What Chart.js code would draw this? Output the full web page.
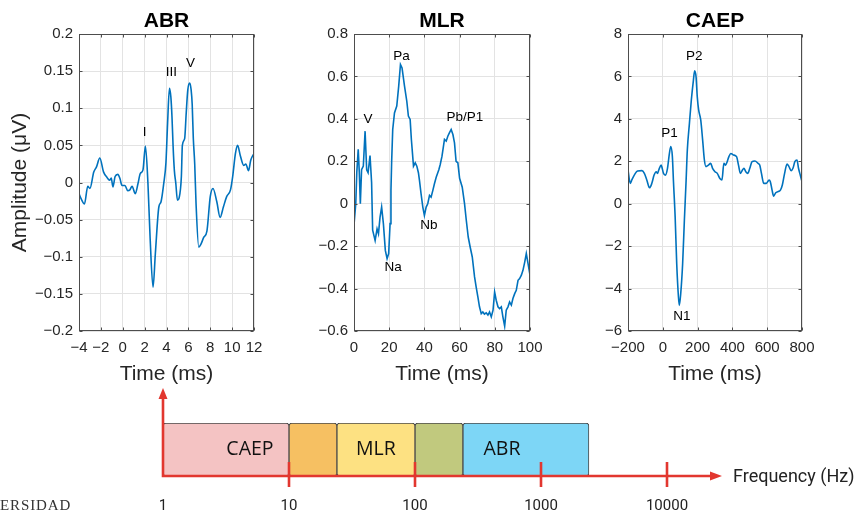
<!DOCTYPE html>
<html>
<head>
<meta charset="utf-8">
<script src="https://cdn.jsdelivr.net/npm/chart.js@4.4.1/dist/chart.umd.min.js"></script>
<style>
  html, body { margin: 0; padding: 0; background: #fff; }
  body { width: 858px; height: 513px; position: relative; overflow: hidden; }
  canvas { position: absolute; }
  #abr { left: 0; top: 0; }
  #mlr { left: 290px; top: 0; }
  #caep { left: 560px; top: 0; }
  #bands { left: 0; top: 380px; }
  .mark { position: absolute; left: 0; top: 497px; font: 15px "Liberation Serif", serif; letter-spacing: 0.9px; color: #333; }
</style>
</head>
<body>
<canvas id="abr" width="290" height="395"></canvas>
<canvas id="mlr" width="270" height="395"></canvas>
<canvas id="caep" width="298" height="395"></canvas>
<canvas id="bands" width="858" height="133"></canvas>
<div class="mark">ERSIDAD</div>
<script>
// ABR waveform (time in ms, amplitude in uV)
const ABR_T = [-4, -3.8, -3.5, -3.2, -3.0, -2.65, -2.4, -2.1, -1.75, -1.45, -1.2, -1.05, -0.9, -0.7, -0.45, -0.25,
  -0.07, 0.2, 0.45, 0.65, 0.85, 1.15, 1.4, 1.6, 1.85, 2.07, 2.3, 2.5, 2.77, 2.98, 3.3, 3.5, 3.75, 3.95, 4.1, 4.27,
  4.4, 4.5, 4.6, 4.72, 4.85, 5.0, 5.15, 5.36, 5.45, 5.66, 5.8, 5.95, 6.12, 6.25, 6.35, 6.45, 6.58, 6.7, 6.95, 7.15,
  7.4, 7.7, 8.0, 8.25, 8.6, 8.9, 9.2, 9.5, 9.85, 10.05, 10.3, 10.5, 10.75, 11.06, 11.25, 11.5, 11.7, 12];
const ABR_V = [-0.015, -0.022, -0.029, -0.005, -0.008, 0.014, 0.021, 0.033, 0.014, 0.007, 0.003, 0.006, -0.006, 0.008,
  0.011, 0.005, -0.004, -0.004, -0.011, -0.010, -0.005, -0.015, -0.001, 0.012, 0.017, 0.049, 0.0, -0.074, -0.141,
  -0.096, -0.033, -0.026, -0.001, 0.027, 0.08, 0.127, 0.115, 0.089, 0.05, 0.016, -0.001, -0.024, -0.021, 0.008, 0.05,
  0.059, 0.093, 0.125, 0.134, 0.125, 0.105, 0.06, 0.025, -0.028, -0.087, -0.083, -0.074, -0.065, -0.019, -0.008,
  -0.026, -0.047, -0.033, -0.019, -0.010, 0.008, 0.039, 0.05, 0.036, 0.023, 0.025, 0.016, 0.03, 0.039];
const ABR_PEAKS = ['I', 'III', 'V'];
const ABR_PEAK_T = [2, 4.44, 6.2];
const ABR_PEAK_V = [0.068, 0.149, 0.16];

// MLR waveform
const MLR_T = [0, 1.0, 1.6, 2.4, 3.0, 3.6, 4.3, 5.3, 6.3, 7.2, 8.0, 9.1, 10.0, 10.6, 12.0, 13.1, 13.9, 14.8, 15.7,
  16.7, 17.8, 18.8, 19.7, 20.5, 21.0, 21.4, 22.0, 23.0, 24.3, 25.4, 26.4, 27.3, 28.7, 30.0, 30.9, 31.9, 32.6, 33.8,
  34.8, 35.7, 36.6, 37.2, 38.1, 39.1, 40.0, 41.0, 41.9, 42.9, 43.8, 44.8, 45.7, 46.7, 47.6, 48.2, 49.0, 50.0, 51.4,
  52.4, 53.3, 54.2, 55.2, 56.2, 57.1, 58.0, 59.0, 60.0, 61.5, 62.8, 63.8, 64.9, 66.0, 67.2, 68.5, 69.4, 70.4, 71.3,
  72.3, 73.2, 74.1, 75.1, 76.1, 77.0, 78.0, 79.0, 79.9, 80.8, 81.8, 82.7, 83.7, 84.6, 85.6, 86.5, 87.5, 88.4, 89.4,
  90.3, 91.3, 92.2, 93.2, 94.1, 95.1, 96.0, 97.0, 97.9, 98.9, 100];
const MLR_V = [-0.10, 0.0, 0.15, 0.256, 0.15, 0.0, 0.16, 0.177, 0.342, 0.16, 0.146, 0.227, 0.10, -0.125, -0.173,
  -0.118, -0.141, -0.063, -0.016, -0.094, -0.22, -0.259, -0.235, -0.094, 0.063, 0.2, 0.35, 0.428, 0.46, 0.554, 0.656,
  0.64, 0.554, 0.483, 0.413, 0.397, 0.303, 0.177, 0.193, 0.177, 0.146, 0.11, 0.047, -0.016, -0.055, -0.016, 0.0,
  0.039, 0.031, 0.063, 0.094, 0.125, 0.146, 0.16, 0.185, 0.224, 0.303, 0.295, 0.318, 0.334, 0.35, 0.326, 0.287, 0.2,
  0.193, 0.12, 0.078, 0.0, -0.078, -0.157, -0.204, -0.251, -0.345, -0.392, -0.44, -0.486, -0.518, -0.51, -0.52,
  -0.514, -0.525, -0.51, -0.533, -0.502, -0.416, -0.455, -0.486, -0.494, -0.486, -0.533, -0.577, -0.502, -0.486,
  -0.463, -0.478, -0.447, -0.424, -0.408, -0.361, -0.353, -0.337, -0.314, -0.275, -0.235, -0.282, -0.337];
const MLR_PEAKS = ['V', 'Pa', 'Na', 'Nb', 'Pb/P1'];
const MLR_PEAK_T = [8.0, 27, 22.2, 42.5, 63];
const MLR_PEAK_V = [0.399, 0.694, -0.30, -0.10, 0.408];

// CAEP waveform
const CAEP_T = [-200, -187, -178, -158, -145, -120, -106, -92, -76, -63, -50, -38, -31, -23, -10, 4, 15, 27, 38, 46,
  55, 61, 71, 80, 90, 95, 103, 114, 124, 134, 141, 153, 164, 176, 183, 191, 198, 206, 218, 229, 239, 248, 262, 275,
  286, 300, 313, 328, 340, 351, 361, 370, 380, 391, 405, 424, 435, 446, 458, 466, 477, 488, 500, 513, 529, 548, 557,
  567, 580, 595, 611, 618, 628, 637, 649, 662, 676, 687, 700, 714, 725, 738, 748, 759, 771, 780, 790, 800];
const CAEP_V = [1.59, 0.96, 1.12, 1.43, 1.54, 1.56, 1.43, 1.12, 0.75, 0.96, 1.35, 1.51, 1.43, 1.59, 1.82, 1.43, 1.35,
  1.67, 2.37, 2.69, 2.22, 1.1, -0.63, -2.83, -4.4, -4.79, -4.24, -2.83, -0.78, 1.1, 2.53, 3.79, 4.89, 5.83, 6.27,
  5.99, 5.05, 4.42, 3.95, 3.0, 2.06, 1.75, 1.82, 1.9, 1.67, 1.51, 1.43, 1.19, 1.12, 1.9, 1.82, 1.98, 2.22, 2.37, 2.3,
  2.22, 1.82, 1.43, 1.59, 1.67, 1.51, 1.43, 1.67, 1.98, 2.01, 1.9, 1.82, 1.43, 0.96, 0.96, 1.12, 1.04, 0.64, 0.36,
  0.52, 0.57, 0.64, 0.88, 1.43, 1.87, 1.75, 1.56, 1.67, 1.98, 2.06, 1.67, 1.35, 1.04];
const CAEP_PEAKS = ['P1', 'P2', 'N1'];
const CAEP_PEAK_T = [38, 181, 109];
const CAEP_PEAK_V = [3.33, 6.94, -5.32];

// frequency bands (Hz)
const BAND_NAMES = ['CAEP', 'MLR', 'ABR'];
const BAND_LO = [1, 10, 100];
const BAND_HI = [24, 240, 2400];
const FREQ_TICKS = [1, 10, 100, 1000, 10000];

const FONT = '"Liberation Sans", Arial, sans-serif';
const TEXT = '#262626';
const AXIS = '#4d4d4d';
const GRID = '#e3e3e3';
const LINE = '#0072BD';
const RED = '#e2372f';

const fmtTick = v => String(Math.round(v * 1000) / 1000).replace('-', '\u2212');

// box round the axes with short inward tick marks on all four sides
const matlabBox = {
  id: 'matlabBox',
  afterDatasetsDraw(chart) {
    const { ctx, chartArea: a, scales: { x, y } } = chart;
    const L = Math.round(a.left) + 0.5, R = Math.round(a.right) - 0.5;
    const T = Math.round(a.top) + 0.5, B = Math.round(a.bottom) - 0.5;
    const tl = 3;
    ctx.save();
    ctx.strokeStyle = AXIS;
    ctx.lineWidth = 1;
    ctx.strokeRect(L, T, R - L, B - T);
    ctx.beginPath();
    x.ticks.forEach(tk => {
      const px = Math.round(x.getPixelForValue(tk.value)) + 0.5;
      ctx.moveTo(px, B); ctx.lineTo(px, B - tl);
      ctx.moveTo(px, T); ctx.lineTo(px, T + tl);
    });
    y.ticks.forEach(tk => {
      const py = Math.round(y.getPixelForValue(tk.value)) + 0.5;
      ctx.moveTo(L, py); ctx.lineTo(L + tl, py);
      ctx.moveTo(R, py); ctx.lineTo(R - tl, py);
    });
    ctx.stroke();
    ctx.restore();
  }
};

// peak names plus the panel title, centred over the plot area
const panelText = (title, names, t, v) => ({
  id: 'panelText',
  afterDatasetsDraw(chart) {
    const { ctx, chartArea: a, scales: { x, y } } = chart;
    ctx.save();
    ctx.textAlign = 'center';
    ctx.textBaseline = 'middle';
    ctx.fillStyle = '#000';
    ctx.font = '13.5px ' + FONT;
    names.forEach((n, i) => ctx.fillText(n, x.getPixelForValue(t[i]), y.getPixelForValue(v[i])));
    ctx.font = 'bold 21px ' + FONT;
    ctx.fillText(title, (a.left + a.right) / 2, 21.5);
    ctx.restore();
  }
});

function evokedPanel(id, cfg) {
  const zeroPad = s => { s.paddingLeft = s.paddingRight = s.paddingTop = s.paddingBottom = 0; };
  return new Chart(document.getElementById(id), {
    type: 'line',
    data: {
      datasets: [{
        data: cfg.t.map((x, i) => ({ x, y: cfg.v[i] })),
        borderColor: LINE,
        borderWidth: 1.6,
        pointRadius: 0,
        tension: 0,
        cubicInterpolationMode: cfg.smooth ? 'monotone' : 'default'
      }]
    },
    options: {
      responsive: false,
      animation: false,
      events: [],
      layout: { padding: { left: 0, right: cfg.rightPad, top: 34, bottom: 0 } },
      plugins: {
        legend: { display: false },
        tooltip: { enabled: false },
        title: { display: false }
      },
      scales: {
        x: {
          type: 'linear', min: cfg.xMin, max: cfg.xMax,
          grid: { color: GRID, drawTicks: false },
          border: { display: false },
          ticks: { stepSize: cfg.xStep, autoSkip: false, maxRotation: 0, padding: 8, color: TEXT,
            font: { family: FONT, size: 15 }, callback: fmtTick },
          title: { display: true, text: 'Time (ms)', color: TEXT, font: { family: FONT, size: 21 },
            padding: { top: 0, bottom: 8 } },
          afterFit: s => { s.height = 64; zeroPad(s); }
        },
        y: {
          type: 'linear', min: cfg.yMin, max: cfg.yMax,
          grid: { color: GRID, drawTicks: false },
          border: { display: false },
          ticks: { stepSize: cfg.yStep, autoSkip: false, padding: 6, color: TEXT,
            font: { family: FONT, size: 15 }, callback: fmtTick },
          title: { display: !!cfg.yTitle, text: cfg.yTitle || '', color: TEXT, font: { family: FONT, size: 21 },
            padding: { top: 8, bottom: 0 } },
          afterFit: s => { s.width = cfg.axisWidth; zeroPad(s); }
        }
      }
    },
    plugins: [matlabBox, panelText(cfg.title, cfg.peaks, cfg.peakT, cfg.peakV)]
  });
}

evokedPanel('abr', {
  title: 'ABR', t: ABR_T, v: ABR_V, smooth: true,
  xMin: -4, xMax: 12, xStep: 2, yMin: -0.2, yMax: 0.2, yStep: 0.05,
  axisWidth: 79, rightPad: 36, yTitle: 'Amplitude (\u03bcV)',
  peaks: ABR_PEAKS, peakT: ABR_PEAK_T, peakV: ABR_PEAK_V
});
evokedPanel('mlr', {
  title: 'MLR', t: MLR_T, v: MLR_V, smooth: false,
  xMin: 0, xMax: 100, xStep: 20, yMin: -0.6, yMax: 0.8, yStep: 0.2,
  axisWidth: 64, rightPad: 30,
  peaks: MLR_PEAKS, peakT: MLR_PEAK_T, peakV: MLR_PEAK_V
});
evokedPanel('caep', {
  title: 'CAEP', t: CAEP_T, v: CAEP_V, smooth: true,
  xMin: -200, xMax: 800, xStep: 200, yMin: -6, yMax: 8, yStep: 2,
  axisWidth: 68, rightPad: 56,
  peaks: CAEP_PEAKS, peakT: CAEP_PEAK_T, peakV: CAEP_PEAK_V
});

// split the bands into segments so overlaps get their own colour
const SEGMENT_COLORS = {
  'CAEP': '#f4c3c3',
  'CAEP+MLR': '#f6c062',
  'MLR': '#fde182',
  'MLR+ABR': '#c1c97e',
  'ABR': '#7dd6f6'
};
const edges = [...new Set([...BAND_LO, ...BAND_HI])].sort((a, b) => a - b);
const segments = [];
for (let i = 0; i < edges.length - 1; i++) {
  const a = edges[i], b = edges[i + 1];
  const key = BAND_NAMES.filter((n, j) => BAND_LO[j] <= a && BAND_HI[j] >= b).join('+');
  segments.push({ a, b, key });
}

const freqAxis = {
  id: 'freqAxis',
  afterDatasetsDraw(chart) {
    const { ctx, chartArea: ar, scales: { x } } = chart;
    const L = x.getPixelForValue(FREQ_TICKS[0]);
    const B = ar.bottom;
    const tipX = ar.right + 55, tipY = 8;
    ctx.save();
    // band names, centred on each band's own range
    ctx.font = '19.5px "Open Sans", "Noto Sans", sans-serif';
    ctx.fillStyle = '#111';
    ctx.textAlign = 'center';
    ctx.textBaseline = 'middle';
    BAND_NAMES.forEach((n, i) => {
      const cx = (x.getPixelForValue(BAND_LO[i]) + x.getPixelForValue(BAND_HI[i])) / 2;
      ctx.fillText(n, cx, (ar.top + ar.bottom) / 2);
    });
    // red arrows
    ctx.strokeStyle = RED;
    ctx.fillStyle = RED;
    ctx.lineWidth = 2.6;
    ctx.beginPath();
    ctx.moveTo(L, tipY + 8); ctx.lineTo(L, B); ctx.lineTo(tipX - 10, B);
    ctx.stroke();
    FREQ_TICKS.forEach(v => {
      const px = x.getPixelForValue(v);
      if (px - L < 2) return;
      ctx.beginPath();
      ctx.moveTo(px, B - 14); ctx.lineTo(px, B + 11);
      ctx.stroke();
    });
    ctx.beginPath();
    ctx.moveTo(L, tipY); ctx.lineTo(L - 4.5, tipY + 11); ctx.lineTo(L + 4.5, tipY + 11); ctx.closePath();
    ctx.fill();
    ctx.beginPath();
    ctx.moveTo(tipX, B); ctx.lineTo(tipX - 12, B - 4.5); ctx.lineTo(tipX - 12, B + 4.5); ctx.closePath();
    ctx.fill();
    ctx.font = '18px Roboto, sans-serif';
    ctx.fillStyle = '#222';
    ctx.textAlign = 'left';
    ctx.fillText('Frequency (Hz)', tipX + 11, B + 1);
    ctx.restore();
  }
};

new Chart(document.getElementById('bands'), {
  type: 'bar',
  data: {
    labels: ['band'],
    datasets: segments.map(s => ({
      data: [[s.a, s.b]],
      backgroundColor: SEGMENT_COLORS[s.key],
      borderColor: '#4a4a4a',
      borderWidth: 1,
      borderSkipped: false,
      borderRadius: 3,
      grouped: false,
      barPercentage: 1,
      categoryPercentage: 1
    }))
  },
  options: {
    indexAxis: 'y',
    responsive: false,
    animation: false,
    events: [],
    layout: { padding: { left: 163, right: 191, top: 43, bottom: 0 } },
    plugins: { legend: { display: false }, tooltip: { enabled: false } },
    scales: {
      y: { display: false },
      x: {
        type: 'logarithmic', min: FREQ_TICKS[0], max: FREQ_TICKS[FREQ_TICKS.length - 1],
        grid: { display: false },
        border: { display: false },
        afterBuildTicks: s => { s.ticks = FREQ_TICKS.map(value => ({ value })); },
        ticks: { autoSkip: false, maxRotation: 0, padding: 13, color: '#222',
          font: { family: 'Roboto, sans-serif', size: 15 }, callback: v => String(v) },
        afterFit: s => { s.height = 37; s.paddingLeft = s.paddingRight = s.paddingTop = s.paddingBottom = 0; }
      }
    }
  },
  plugins: [freqAxis]
});
</script>
</body>
</html>
